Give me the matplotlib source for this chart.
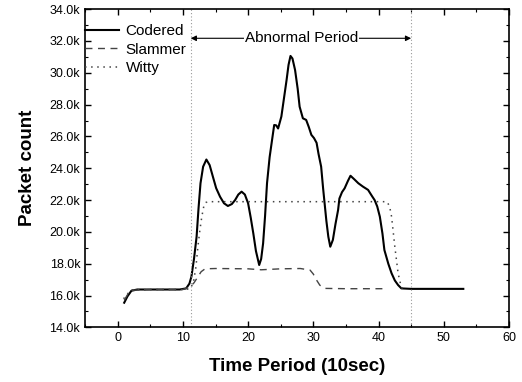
import matplotlib
matplotlib.use("Agg")
import matplotlib.pyplot as plt
from matplotlib.ticker import MultipleLocator, FuncFormatter

plt.rcParams["font.family"] = ["Liberation Sans", "DejaVu Sans"]

# Codered (solid)
codered_x = [1.0, 1.5, 2.1, 3, 6, 9.5, 10.5, 11.0, 11.3, 11.7, 12.1, 12.4, 12.7,
             13.1, 13.6, 14.1, 14.6, 15.1, 15.7, 16.3, 16.9, 17.5, 18.0, 18.5,
             19.0, 19.5, 20.0, 20.4, 20.8, 21.2, 21.7, 22.0, 22.3, 22.6, 22.9,
             23.3, 23.6, 24.0, 24.3, 24.6, 25.1, 25.5, 25.9, 26.2, 26.5, 26.8,
             27.2, 27.6, 27.9, 28.4, 28.9, 29.3, 29.7, 30.1, 30.5, 30.8, 31.2,
             31.5, 32.0, 32.3, 32.6, 33.0, 33.4, 33.8, 34.0, 34.4, 34.8, 35.3,
             35.7, 36.3, 36.9, 37.6, 38.4, 39.0, 39.4, 39.8, 40.2, 40.6, 40.9,
             41.5, 42.0, 42.5, 43.0, 43.5, 45, 50, 53]
codered_y = [15550, 15950, 16300, 16380, 16380, 16380, 16450, 16750, 17180,
             18300, 19700, 21500, 23060, 24100, 24550, 24200, 23470, 22750,
             22210, 21800, 21630, 21750, 22000, 22350, 22530, 22350, 21800,
             20900, 19900, 18800, 17920, 18300, 19280, 21000, 23060, 24700,
             25570, 26720, 26700, 26500, 27250, 28400, 29550, 30500, 31060,
             30900, 30180, 29000, 27870, 27140, 27040, 26600, 26100, 25900,
             25600, 24900, 24100, 22740, 20700, 19700, 19070, 19500, 20500,
             21380, 22100, 22500, 22740, 23200, 23530, 23300, 23060, 22850,
             22640, 22250, 22000, 21600, 20960, 19900, 18860, 18000, 17400,
             16950, 16660, 16450, 16420, 16420, 16420]

# Slammer (dashed)
slammer_x = [1.0, 1.5, 2.1, 5, 10, 11.1, 11.7, 12.3, 12.8, 13.4, 15, 20, 22,
             25, 28, 29.5, 30.0, 30.5, 31.0, 31.8, 35, 41]
slammer_y = [15700, 16050, 16330, 16380, 16380, 16550, 16800, 17180, 17500,
             17680, 17700, 17680, 17620, 17680, 17700, 17600, 17350, 16970,
             16650, 16450, 16430, 16430]

# Witty (dotted)
witty_x = [0.9, 1.5, 2.1, 5, 10, 11.1, 11.6, 12.0, 12.3, 12.6, 12.9, 13.2,
           13.5, 14, 20, 30, 41.3, 41.7, 42.0, 42.5, 43.0, 43.5, 44]
witty_y = [15800, 16100, 16350, 16380, 16380, 16420, 16800, 17800, 19070,
           20100, 20960, 21600, 21850, 21900, 21900, 21900, 21900, 21600,
           20960, 19070, 17400, 16500, 16420]

period_start = 11.2
period_end = 45.0
arrow_y = 32170

fig = plt.figure(figsize=(5.22, 3.82), dpi=100)
ax = fig.add_axes([0.163, 0.143, 0.812, 0.833])

ax.plot(codered_x, codered_y, color="black", lw=1.5, ls="-", label="Codered")
ax.plot(slammer_x, slammer_y, color="#444444", lw=1.0, ls=(0, (5, 4)), label="Slammer")
ax.plot(witty_x, witty_y, color="#444444", lw=1.1, ls=(0, (1, 3)), label="Witty")

ax.axvline(period_start, color="#999999", lw=0.8, ls=(0, (1, 2)))
ax.axvline(period_end, color="#999999", lw=0.8, ls=(0, (1, 2)))

ax.annotate("", xy=(period_start, arrow_y), xytext=(period_end, arrow_y),
            arrowprops=dict(arrowstyle="<|-|>", color="black", lw=0.8,
                            mutation_scale=8, shrinkA=0, shrinkB=0))
ax.text(28.2, arrow_y, "Abnormal Period", fontsize=11, ha="center", va="center",
        bbox=dict(facecolor="white", edgecolor="none", pad=0.5))

ax.set_xlim(-5, 60)
ax.set_ylim(14000, 34000)
ax.xaxis.set_major_locator(MultipleLocator(10))
ax.xaxis.set_minor_locator(MultipleLocator(5))
ax.yaxis.set_major_locator(MultipleLocator(2000))
ax.yaxis.set_minor_locator(MultipleLocator(1000))
ax.yaxis.set_major_formatter(FuncFormatter(lambda v, p: f"{v / 1000:.1f}k"))

ax.tick_params(which="both", direction="in", top=True, right=True, labelsize=9)
ax.tick_params(which="major", length=4, width=1)
ax.tick_params(which="minor", length=2, width=0.8)
for s in ax.spines.values():
    s.set_linewidth(1.2)

ax.set_xlabel("Time Period (10sec)", fontsize=13.5, fontweight="bold", labelpad=10)
ax.set_ylabel("Packet count", fontsize=13.5, fontweight="bold", labelpad=10)

ax.legend(loc="upper left", bbox_to_anchor=(0.0, 0.953), frameon=False,
          fontsize=11, handlelength=2.2, handletextpad=0.45,
          labelspacing=0.3, borderpad=0, borderaxespad=0)

fig.savefig("out.png", dpi=100)
